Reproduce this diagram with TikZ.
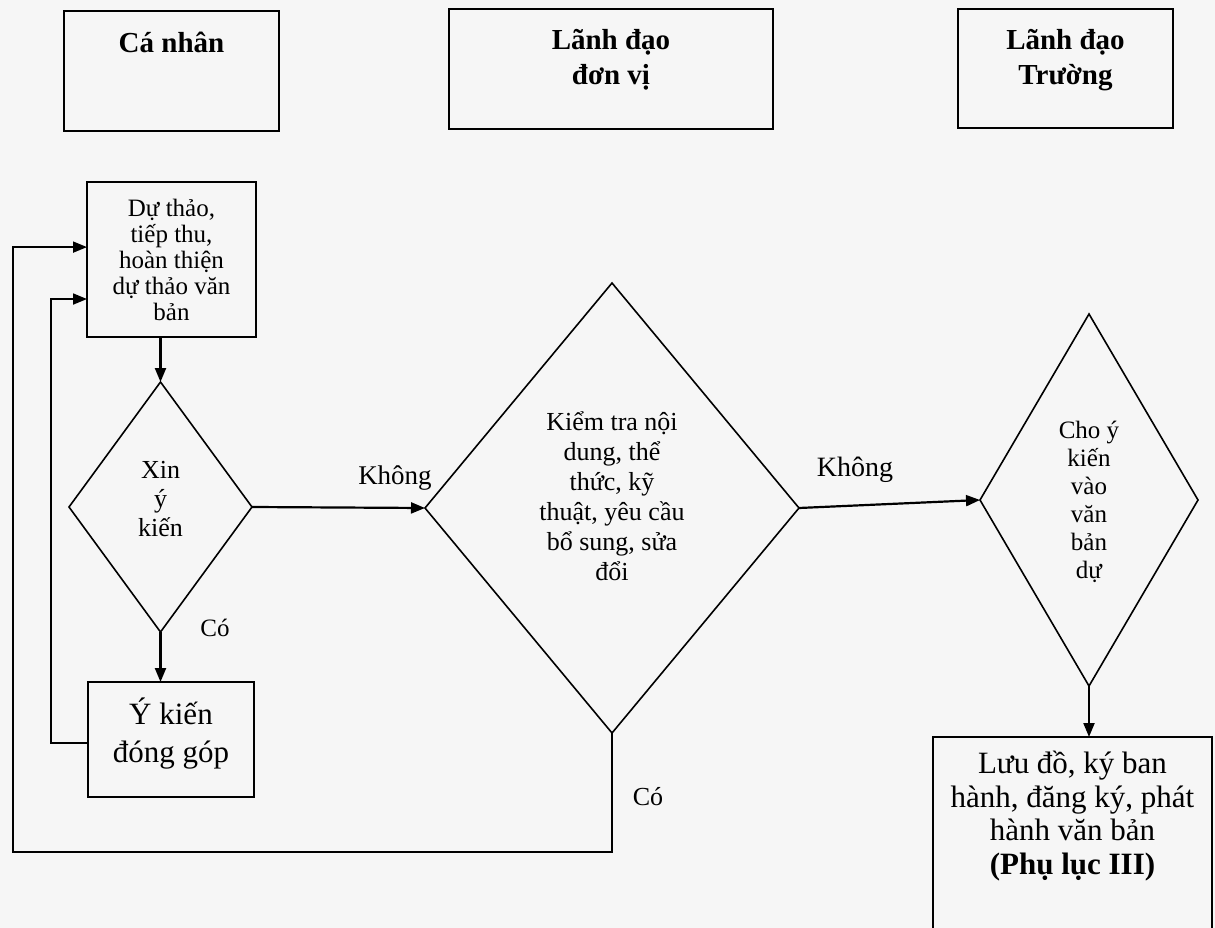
\documentclass[tikz,border=0pt]{standalone}
\usepackage{fontspec}
\setmainfont{Liberation Serif}
\usetikzlibrary{shapes.geometric,arrows.meta,calc}
\definecolor{bg}{RGB}{246,246,246}
\begin{document}
\begin{tikzpicture}[x=1pt,y=-1pt,
  box/.style={draw,line width=1.8pt,inner sep=0pt,outer sep=0pt,align=center},
  hbox/.style={draw,line width=2.2pt,inner sep=0pt,outer sep=0pt},
  dia/.style={draw,shape=diamond,line width=1.6pt,inner sep=0pt,outer sep=0pt},
  arr/.style={line width=2.2pt,-{Triangle[length=14pt,width=11pt]}},
  looparr/.style={line width=1.8pt,-{Triangle[length=14pt,width=11pt]}},
  lbl/.style={inner sep=0pt,align=center}]
\useasboundingbox (0,0) rectangle (1215,928);
\clip (0,0) rectangle (1215,928);
\fill[bg] (0,0) rectangle (1215,928);

% header boxes
\node[hbox,minimum width=215pt,minimum height=120pt] (h1) at (171.5,71) {};
\node[lbl,font=\fontsize{29}{35}\selectfont\bfseries] (h1t) at ([yshift=-31pt]h1.north) {Cá nhân};
\node[hbox,minimum width=324pt,minimum height=120pt] (h2) at (611,69) {};
\node[lbl,font=\fontsize{29}{35}\selectfont\bfseries] (h2t) at ([yshift=-51pt]h2.north) {Lãnh đạo\\đơn vị};
\node[hbox,minimum width=215pt,minimum height=119pt] (h3) at (1065.5,68.5) {};
\node[lbl,font=\fontsize{29}{35}\selectfont\bfseries] (h3t) at ([yshift=-51pt]h3.north) {Lãnh đạo\\Trường};

% process boxes
\node[box,minimum width=169pt,minimum height=155pt,font=\fontsize{25}{26}\selectfont] (b1) at (171.5,259.5)
  {Dự thảo,\\tiếp thu,\\hoàn thiện\\dự thảo văn\\bản};
\node[box,minimum width=166pt,minimum height=115pt] (b2) at (171,739.5) {};
\node[lbl,font=\fontsize{31}{38}\selectfont] (b2t) at ([yshift=6pt]b2.center) {Ý kiến\\đóng góp};
\node[box,minimum width=279pt,minimum height=230pt,anchor=north] (b3) at (1072.5,737) {};
\node[lbl,font=\fontsize{31}{33.5}\selectfont] (b3t) at ([yshift=-79pt]b3.north)
  {Lưu đồ, ký ban\\hành, đăng ký, phát\\hành văn bản\\\textbf{(Phụ lục III)}};

% decisions
\node[dia,minimum width=183pt,minimum height=250pt] (d1) at (160.5,507) {};
\node[lbl,font=\fontsize{26}{29}\selectfont] (d1t) at ([yshift=8pt]d1.center) {Xin\\ý\\kiến};
\node[dia,minimum width=374pt,minimum height=450pt] (d2) at (612,508) {};
\node[lbl,font=\fontsize{26}{30}\selectfont] (d2t) at ([yshift=12pt]d2.center)
  {Kiểm tra nội\\dung, thể\\thức, kỹ\\thuật, yêu cầu\\bổ sung, sửa\\đổi};
\node[dia,minimum width=218pt,minimum height=372pt] (d3) at (1089,500) {};
\node[lbl,font=\fontsize{25}{28}\selectfont] (d3t) at ([yshift=-2pt]d3.center)
  {Cho ý\\kiến\\vào\\văn\\bản\\dự};

% connectors
\draw[arr] (d1.north |- b1.south) -- (d1.north);
\draw[arr] (d1.south) -- (d1.south |- b2.north);
\draw[arr] (d1.east) -- (d2.west);
\draw[arr] (d2.east) -- (d3.west);
\draw[arr] (d3.south) -- (d3.south |- b3.north);

\coordinate (o1) at ($(b1.north west)!0.42!(b1.south west)$);
\coordinate (o2) at ($(b1.north west)!0.755!(b1.south west)$);
\coordinate (i1) at ($(b2.north west)!0.53!(b2.south west)$);
\coordinate (oc) at (13,852);
\coordinate (ic) at (51,743);
\draw[looparr] (d2.south) |- (oc) |- (o1);
\draw[looparr] (i1) -- (i1 -| ic) |- (o2);

% labels
\node[lbl,font=\fontsize{27}{30}\selectfont] (k1) at (395,478) {Không};
\node[lbl,font=\fontsize{28}{30}\selectfont] (k2) at (855,470) {Không};
\node[lbl,font=\fontsize{25}{28}\selectfont] (c1) at (215,628) {Có};
\node[lbl,font=\fontsize{26}{28}\selectfont] (c2) at (648,797) {Có};
\end{tikzpicture}
\end{document}
